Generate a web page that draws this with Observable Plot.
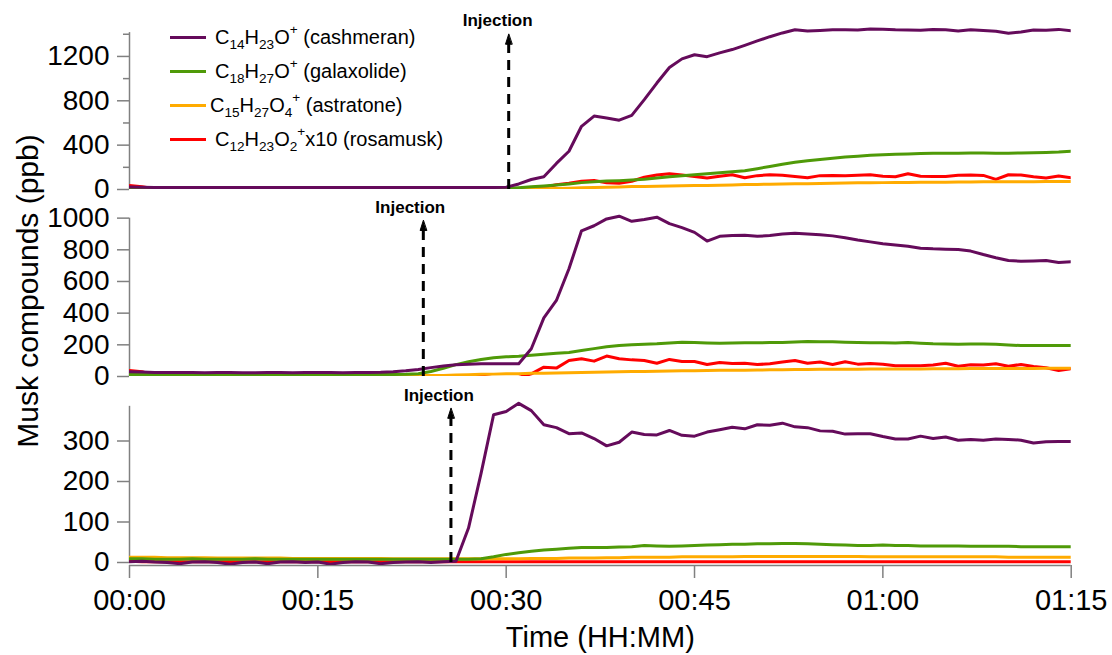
<!DOCTYPE html>
<html>
<head>
<meta charset="utf-8">
<script src="https://cdn.jsdelivr.net/npm/d3@7"></script>
<script src="https://cdn.jsdelivr.net/npm/@observablehq/plot@0.6"></script>
<style>
  body { margin: 0; background: #fff; }
  #chart { position: relative; width: 1112px; height: 655px; font-family: "Liberation Sans", Arial, sans-serif; overflow: hidden; background: #fff; color: #000; }
  #chart svg { position: absolute; left: 0; }
  .legend-row { position: absolute; left: 170px; height: 34px; display: flex; align-items: center; font-size: 20px; color: #000; white-space: nowrap; }
  .legend-row .swatch { display: inline-block; width: 36px; height: 3px; margin-right: 9px; }
  .legend-row sub { font-size: 0.68em; vertical-align: -0.38em; line-height: 0; }
  .legend-row sup { font-size: 0.68em; vertical-align: 0.72em; line-height: 0; }
  #ytitle { position: absolute; left: 28px; top: 291px; transform: translate(-50%, -50%) rotate(-90deg); font-size: 30px; white-space: nowrap; line-height: 1; }
</style>
</head>
<body>
<div id="chart"></div>
<script>
// ---------- time axis (minutes after start) ----------
const minutes = [0,1,2,3,4,5,6,7,8,9,10,11,12,13,14,15,16,17,18,19,20,21,22,23,24,25,26,27,28,29,30,31,32,33,34,35,36,37,38,39,40,41,42,43,44,45,46,47,48,49,50,51,52,53,54,55,56,57,58,59,60,61,62,63,64,65,66,67,68,69,70,71,72,73,74,75];
const xTicks = [0, 15, 30, 45, 60, 75];
const xTickLabels = ["00:00", "00:15", "00:30", "00:45", "01:00", "01:15"];

// ---------- series names / colours ----------
const seriesKeys = ["rosamusk", "astratone", "galaxolide", "cashmeran"]; // drawing order
const seriesColors = { cashmeran: "#650b5b", galaxolide: "#4f9a08", astratone: "#ffab00", rosamusk: "#ff0000" };

// ---------- panel 1 (top) ----------
const p1_cashmeran = [22,20,19,19,18,18,18,18,18,18,18,18,18,18,18,18,18,18,17,17,17,17,17,17,17,17,17,18,18,18,
  20,50,90,115,235,345,570,662,645,625,668,810,960,1100,1178,1215,1198,1232,1262,1300,1340,1378,1412,1440,1430,1434,1440,1440,1438,1448,1446,1440,1438,1436,1442,1440,1430,1440,1434,1428,1410,1420,1438,1436,1444,1432];
const p1_galaxolide = [9,8,8,8,7,8,8,8,8,8,7,8,8,8,8,8,8,8,8,8,8,8,8,8,8,8,8,8,8,9,
  10,16,24,32,40,50,62,70,76,80,85,92,104,114,124,134,143,152,160,170,188,208,228,245,260,270,282,293,300,308,314,318,320,324,326,327,328,330,330,328,326,330,332,334,338,345];
const p1_astratone = [2,2,2,2,2,2,2,2,2,2,2,2,2,2,2,2,2,2,2,2,2,2,2,2,2,2,2,2,2,2,
  2,3,4,6,9,12,15,18,21,23,26,28,30,32,34,35,37,39,41,44,46,48,49,51,52,54,56,58,60,61,62,63,64,65,65,66,67,68,69,69,70,71,71,72,72,73];
const p1_rosamusk = [35,25,8,4,-8,5,3,6,-7,4,3,-10,3,5,2,-8,4,3,-9,2,-6,3,5,-9,3,-7,2,4,-10,3,
  -12,-15,8,20,42,57,75,82,60,56,74,110,130,142,130,118,104,120,133,106,125,133,128,118,106,125,127,124,128,133,120,115,142,120,118,118,128,130,127,91,133,130,115,103,121,106];
const p1_yTicks = [0, 400, 800, 1200];
const p1_yTickLabels = ["0", "400", "800", "1200"];
const p1_yMinorTicks = [200, 600, 1000, 1400];

// ---------- panel 2 (middle) ----------
const p2_cashmeran = [30,28,26,25,25,25,24,25,25,24,24,25,25,24,25,25,25,24,25,26,
  27,30,36,44,56,66,74,78,80,80,80,80,175,370,480,680,920,952,995,1012,980,992,1006,965,940,910,855,885,890,892,885,890,900,905,900,895,888,876,862,850,838,830,822,810,806,804,802,792,770,750,732,728,730,732,720,724];
const p2_galaxolide = [13,12,12,12,12,12,12,12,12,12,12,12,12,12,12,12,12,12,12,12,12,13,14,
  18,32,52,75,93,107,118,124,128,134,141,147,152,164,176,188,196,200,204,207,212,217,214,212,210,211,213,213,214,214,218,221,220,219,216,214,213,213,212,214,210,207,206,204,205,205,203,199,195,196,196,196,196];
const p2_astratone = [2,2,2,2,2,2,2,2,2,2,2,2,2,2,2,2,2,2,2,2,2,
  3,4,5,6,7,9,11,14,15,17,18,20,21,22,24,25,27,28,30,31,32,33,35,36,37,38,39,40,40,41,42,43,44,44,45,45,46,46,47,47,48,48,48,49,49,49,50,50,50,51,51,51,52,52,52];
const p2_rosamusk = [38,30,6,3,-8,4,5,-9,-10,3,4,2,-6,5,3,-8,-9,4,2,3,-9,-10,-8,4,3,-7,-9,2,4,
  -8,-10,-6,17,59,53,101,112,97,129,112,105,101,84,108,95,95,76,89,82,84,76,80,91,101,84,91,76,93,78,82,78,68,68,68,72,84,65,74,72,80,65,76,63,55,38,49];
const p2_yTicks = [0, 200, 400, 600, 800, 1000];
const p2_yTickLabels = ["0", "200", "400", "600", "800", "1000"];

// ---------- panel 3 (bottom) ----------
const p3_cashmeran = [2,3,1,0,-3,1,2,0,-4,0,1,-3,1,2,0,1,-4,0,2,1,-3,0,1,2,0,2,
  3,85,220,365,373,393,375,340,333,318,320,306,288,297,322,316,315,326,314,312,322,328,334,330,340,339,344,335,333,325,324,317,318,318,311,305,305,312,306,310,302,304,302,305,304,302,295,298,299,299];
const p3_galaxolide = [9,9,8,8,8,9,8,8,8,8,9,8,8,8,8,8,8,8,8,8,8,8,8,8,8,8,8,8,
  9,14,20,24,28,31,33,35,37,37,37,38,39,42,41,40,41,42,43,44,45,45,46,46,47,47,46,45,44,43,42,42,43,42,42,41,41,41,41,40,40,40,40,39,39,39,39,39];
const p3_astratone = [13,13,13,12,12,12,12,11,11,11,11,11,11,10,10,10,10,10,10,10,10,9,9,9,9,9,9,9,
  9,9,9,9,10,10,10,11,11,11,12,12,13,13,13,13,14,14,14,14,14,15,15,15,15,15,15,15,15,15,15,14,14,14,14,14,14,14,14,14,14,14,13,13,13,13,13,13];
const p3_rosamusk = [3,2,2,2,2,2,2,2,2,2,2,2,2,2,2,2,2,2,2,2,2,2,2,2,2,2,2,2,2,2,2,2,2,2,2,2,2,2,2,2,2,2,2,2,2,2,2,2,2,2,2,2,2,2,2,2,2,2,2,2,2,2,2,2,2,2,2,2,2,2,2,2,2,2,2,2];
const p3_yTicks = [0, 100, 200, 300];
const p3_yTickLabels = ["0", "100", "200", "300"];

// ---------- injection markers (time in minutes, arrow tip / label heights in panel units) ----------
const injections = [
  { t: 30.2, base: 1310, label: 1522, dx: -11 },
  { t: 23.4, base: 922, label: 1070, dx: -13 },
  { t: 25.6, base: 356, label: 412, dx: -12 }
];

// ---------- legend ----------
const legendItems = [
  { key: "cashmeran", html: "C<sub>14</sub>H<sub>23</sub>O<sup>+</sup> (cashmeran)", gap: 9 },
  { key: "galaxolide", html: "C<sub>18</sub>H<sub>27</sub>O<sup>+</sup> (galaxolide)", gap: 9 },
  { key: "astratone", html: "C<sub>15</sub>H<sub>27</sub>O<sub>4</sub><sup>+</sup> (astratone)", gap: 4 },
  { key: "rosamusk", html: "C<sub>12</sub>H<sub>23</sub>O<sub>2</sub><sup>+</sup>x10 (rosamusk)", gap: 9 }
];
const legendRowTops = [20.3, 54.3, 88.3, 122];

const AXIS_GREY = "#808080";
const FONT = "'Liberation Sans', Arial, sans-serif";
const TICK_FONT = 28;

const arrowHead = {
  draw(context, l) {
    context.moveTo(0, -l);
    context.lineTo(-3.2, 0);
    context.lineTo(3.2, 0);
    context.closePath();
  }
};

function rows(values) {
  return minutes.map((t, i) => ({ t, v: values[i] }));
}

function makePanel(cfg) {
  const marks = [];
  // y axis line
  marks.push(Plot.ruleX([0], { y1: 0, y2: cfg.axisTop, stroke: AXIS_GREY, strokeWidth: 1.5, insetBottom: cfg.bottomAxis ? -3 : 0 }));
  // y ticks + labels
  marks.push(Plot.axisY({ ticks: cfg.yTicks, tickFormat: d => cfg.yTickLabels[cfg.yTicks.indexOf(d)], tickSize: 12, tickPadding: 8, stroke: AXIS_GREY, strokeWidth: 1.5, fill: "black", fontSize: TICK_FONT, label: null }));
  if (cfg.yMinor) {
    marks.push(Plot.axisY({ ticks: cfg.yMinor, tickFormat: () => "", tickSize: 6, stroke: AXIS_GREY, strokeWidth: 1.5, label: null }));
  }
  if (cfg.bottomAxis) {
    marks.push(Plot.ruleY([0], { dy: 3, stroke: AXIS_GREY, strokeWidth: 1.5 }));
    marks.push(Plot.axisX({ ticks: xTicks, tickFormat: d => xTickLabels[xTicks.indexOf(d)], tickSize: 13, tickPadding: 11, stroke: AXIS_GREY, strokeWidth: 1.5, fill: "black", fontSize: 29, label: null }));
    marks.push(Plot.text(["Time (HH:MM)"], { text: d => d, frameAnchor: "bottom", dy: 72, fontSize: 29, fill: "black", lineAnchor: "middle" }));
  }
  // data lines
  for (const k of seriesKeys) {
    marks.push(Plot.lineY(rows(cfg.series[k]), { x: "t", y: "v", stroke: seriesColors[k], strokeWidth: 3, clip: true }));
  }
  // injection marker
  const inj = cfg.injection;
  marks.push(Plot.ruleX([inj], { x: "t", y1: 0, y2: "base", stroke: "black", strokeWidth: 3, strokeDasharray: "10,7" }));
  marks.push(Plot.vector([inj], { x: "t", y: "base", length: 10, anchor: "start", rotate: 0, shape: arrowHead, fill: "black", stroke: "black", strokeWidth: 1 }));
  marks.push(Plot.text([inj], { x: "t", y: "label", text: () => "Injection", dx: inj.dx, fontSize: 17, fontWeight: "bold", fill: "black" }));

  const svg = Plot.plot({
    width: 1112,
    height: cfg.height,
    marginLeft: 129,
    marginRight: 41.3,
    marginTop: cfg.marginTop,
    marginBottom: cfg.marginBottom,
    x: { domain: [0, 75], axis: cfg.bottomAxis ? undefined : null },
    y: { domain: cfg.yDomain, insetBottom: cfg.bottomAxis ? 3 : 0 },
    style: { fontFamily: FONT, fontSize: "28px", background: "transparent", overflow: "visible", color: "black" },
    marks
  });
  svg.style.top = cfg.top + "px";
  return svg;
}

const chart = document.getElementById("chart");

chart.appendChild(makePanel({
  top: 0, height: 195, marginTop: 26, marginBottom: 6,
  yDomain: [0, 1470], axisTop: 1415,
  yTicks: p1_yTicks, yTickLabels: p1_yTickLabels, yMinor: p1_yMinorTicks,
  series: { cashmeran: p1_cashmeran, galaxolide: p1_galaxolide, astratone: p1_astratone, rosamusk: p1_rosamusk },
  injection: injections[0]
}));

chart.appendChild(makePanel({
  top: 195, height: 195, marginTop: 16.3, marginBottom: 14,
  yDomain: [0, 1040], axisTop: 1000,
  yTicks: p2_yTicks, yTickLabels: p2_yTickLabels,
  series: { cashmeran: p2_cashmeran, galaxolide: p2_galaxolide, astratone: p2_astratone, rosamusk: p2_rosamusk },
  injection: injections[1]
}));

chart.appendChild(makePanel({
  top: 390, height: 265, marginTop: 10, marginBottom: 90,
  yDomain: [0, 400], axisTop: 393, bottomAxis: true,
  yTicks: p3_yTicks, yTickLabels: p3_yTickLabels,
  series: { cashmeran: p3_cashmeran, galaxolide: p3_galaxolide, astratone: p3_astratone, rosamusk: p3_rosamusk },
  injection: injections[2]
}));

// legend
legendItems.forEach((item, i) => {
  const row = document.createElement("div");
  row.className = "legend-row";
  row.style.top = legendRowTops[i] + "px";
  const sw = document.createElement("span");
  sw.className = "swatch";
  sw.style.background = seriesColors[item.key];
  sw.style.marginRight = item.gap + "px";
  const label = document.createElement("span");
  label.innerHTML = item.html;
  row.appendChild(sw);
  row.appendChild(label);
  chart.appendChild(row);
});

// y-axis title
const yt = document.createElement("div");
yt.id = "ytitle";
yt.textContent = "Musk compounds (ppb)";
chart.appendChild(yt);
</script>
</body>
</html>
